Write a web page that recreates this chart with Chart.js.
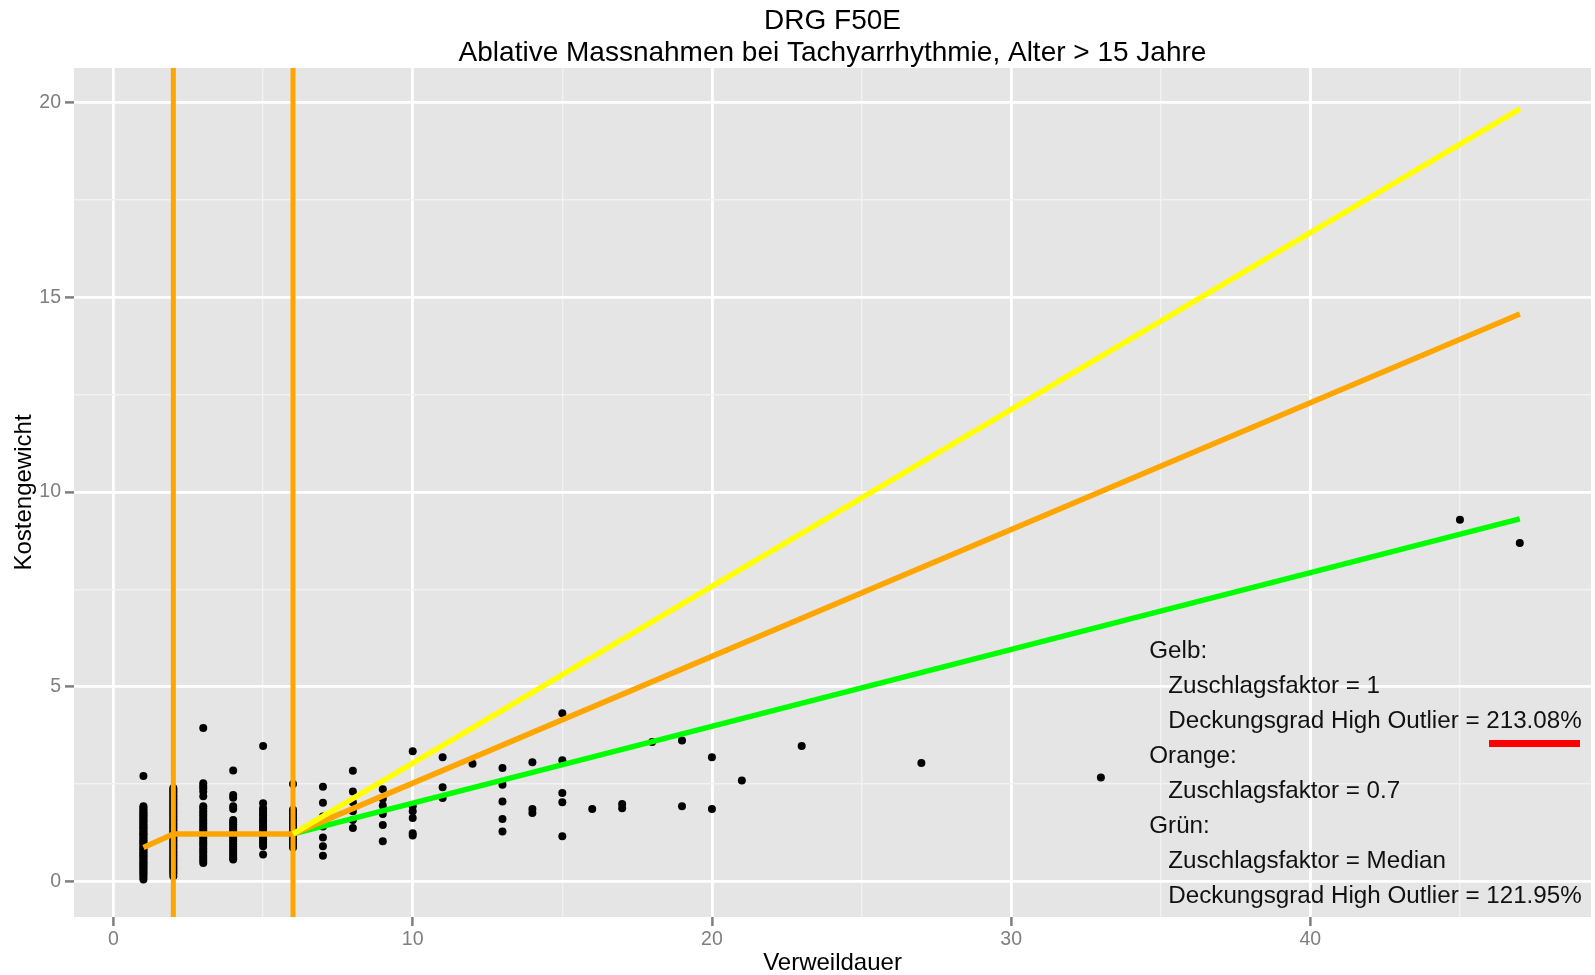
<!DOCTYPE html>
<html><head><meta charset="utf-8">
<script src="https://cdn.jsdelivr.net/npm/chart.js@4"></script>
<style>html,body{margin:0;padding:0;background:#fff}#c{display:block}</style>
</head><body>
<canvas id="c" width="1595" height="975"></canvas>
<script>
// ---- text ----
const titleLines = ['DRG F50E', 'Ablative Massnahmen bei Tachyarrhythmie, Alter > 15 Jahre'];
const xAxisTitle = 'Verweildauer';
const yAxisTitle = 'Kostengewicht';
const annotationLines = [
  ['Gelb:', 0],
  ['Zuschlagsfaktor = 1', 1],
  ['Deckungsgrad High Outlier = 213.08%', 1],
  ['Orange:', 0],
  ['Zuschlagsfaktor = 0.7', 1],
  ['Grün:', 0],
  ['Zuschlagsfaktor = Median', 1],
  ['Deckungsgrad High Outlier = 121.95%', 1]
];

// ---- axes ----
const xMajorTicks = [0, 10, 20, 30, 40];
const xMinorTicks = [5, 15, 25, 35, 45];
const yMajorTicks = [0, 5, 10, 15, 20];
const yMinorTicks = [2.5, 7.5, 12.5, 17.5];
const xRange = [-1.32, 49.38];
const yRange = [-0.914, 20.89];

// ---- scatter data: Verweildauer (days) and the Kostengewicht values observed at each ----
const verweildauer = [1, 2, 3, 4, 5, 6, 7, 8, 9, 10, 11, 12, 13, 14, 15, 16, 17, 18, 19, 20, 21, 23, 27, 33, 45, 47];
const kostengewichte = [
  [2.71, 1.93, 1.89, 1.85, 1.81, 1.77, 1.73, 1.70, 1.66, 1.62, 1.58, 1.55, 1.51, 1.47, 1.43, 1.39, 1.36, 1.32, 1.28, 1.24, 1.21, 1.17, 1.13, 1.09, 1.05, 1.02, 0.98, 0.94, 0.90, 0.86, 0.83, 0.79, 0.75, 0.71, 0.67, 0.64, 0.60, 0.56, 0.52, 0.48, 0.45, 0.41, 0.37, 0.33, 0.29, 0.25, 0.21, 0.16, 0.10, 0.05],
  [2.40, 2.36, 2.31, 2.27, 2.22, 2.18, 2.13, 2.09, 2.04, 2.00, 1.95, 1.91, 1.86, 1.82, 1.77, 1.73, 1.68, 1.64, 1.59, 1.55, 1.50, 1.46, 1.41, 1.37, 1.32, 1.28, 1.23, 1.19, 1.14, 1.10, 1.05, 1.01, 0.96, 0.92, 0.87, 0.83, 0.78, 0.74, 0.69, 0.65, 0.60, 0.56, 0.51, 0.47, 0.42, 0.38, 0.33, 0.29, 0.24, 0.20, 0.13],
  [3.94, 2.52, 2.45, 2.39, 2.31, 2.19, 1.93, 1.87, 1.80, 1.74, 1.68, 1.61, 1.55, 1.49, 1.42, 1.36, 1.30, 1.23, 1.17, 1.11, 1.04, 0.98, 0.92, 0.85, 0.79, 0.73, 0.66, 0.60, 0.54, 0.47],
  [2.85, 2.22, 2.15, 1.93, 1.86, 1.58, 1.52, 1.46, 1.40, 1.33, 1.27, 1.21, 1.15, 1.09, 1.03, 0.96, 0.90, 0.84, 0.78, 0.72, 0.65, 0.60, 0.56],
  [3.48, 2.01, 1.88, 1.82, 1.76, 1.70, 1.63, 1.57, 1.51, 1.45, 1.39, 1.33, 1.26, 1.20, 1.14, 1.08, 1.02, 0.96, 0.90, 0.69],
  [2.50, 1.84, 1.78, 1.71, 1.64, 1.57, 1.50, 1.43, 1.36, 1.29, 1.22, 1.15, 1.08, 1.01, 0.94, 0.87],
  [2.43, 2.02, 1.67, 1.41, 1.13, 0.90, 0.66],
  [2.84, 2.31, 2.03, 1.80, 1.58, 1.37],
  [2.37, 2.12, 1.95, 1.73, 1.45, 1.03],
  [3.34, 1.93, 1.80, 1.63, 1.24, 1.18],
  [3.19, 2.42, 2.14],
  [3.02],
  [2.91, 2.48, 2.05, 1.60, 1.28],
  [3.06, 1.86, 1.76],
  [4.32, 3.11, 2.27, 2.03, 1.16],
  [1.86],
  [1.99, 1.88],
  [3.58],
  [3.62, 1.93],
  [3.19, 1.86],
  [2.59],
  [3.48],
  [3.04],
  [2.67],
  [9.29],
  [8.69]
];

// ---- reference lines ----
const orangeX = [1, 2, 6, 47];
const orangeY = [0.87, 1.22, 1.22, 14.57];
const yellowX = [6, 47];
const yellowY = [1.22, 19.84];
const greenX = [6, 47];
const greenY = [1.22, 9.31];
const grenzVerweildauer = [2, 6];

// ---- build ----
const zip = (xs, ys) => xs.map((x, i) => ({x, y: ys[i]}));
const points = [];
verweildauer.forEach((x, i) => kostengewichte[i].forEach(y => points.push({x, y})));

const FONT = "'Liberation Sans', Arial, Helvetica, sans-serif";
Chart.defaults.font.family = FONT;

const lineDs = (label, data, color, width) => ({
  label, data, showLine: true, borderColor: color, backgroundColor: color,
  borderWidth: width, pointRadius: 0, pointHoverRadius: 0, fill: false, tension: 0, order: 1
});

const datasets = [
  lineDs('Gelb', zip(yellowX, yellowY), '#FFFF00', 5.5),
  lineDs('Orange', zip(orangeX, orangeY), '#FFA500', 5.5),
  lineDs('Grün', zip(greenX, greenY), '#00FF00', 5.5),
  ...grenzVerweildauer.map(g => lineDs('Grenze ' + g, [{x: g, y: yRange[0]}, {x: g, y: yRange[1]}], '#FFA500', 5)),
  {label: 'Fälle', data: points, pointRadius: 4, pointHoverRadius: 4, backgroundColor: '#000000',
   borderColor: '#000000', borderWidth: 0, order: 10}
];

const gridOpts = (major) => ({
  color: c => (c.tick && major.includes(c.tick.value)) ? '#FFFFFF' : '#F2F2F2',
  lineWidth: c => (c.tick && major.includes(c.tick.value)) ? 2.8 : 1.4,
  tickColor: c => (c.tick && major.includes(c.tick.value)) ? '#7F7F7F' : 'rgba(0,0,0,0)',
  tickWidth: 2.5,
  tickLength: 9,
  drawTicks: true,
  drawOnChartArea: true
});

const bgPlugin = {
  id: 'bg',
  beforeDraw(chart) {
    const {ctx, chartArea: a} = chart;
    ctx.save();
    ctx.fillStyle = '#FFFFFF';
    ctx.fillRect(0, 0, chart.width, chart.height);
    ctx.fillStyle = '#E5E5E5';
    ctx.fillRect(a.left, a.top, a.right - a.left, a.bottom - a.top);
    ctx.restore();
  }
};

const textPlugin = {
  id: 'texts',
  afterDraw(chart) {
    const {ctx, chartArea: a} = chart;
    const cx = (a.left + a.right) / 2;
    ctx.save();
    ctx.fillStyle = '#000000';
    ctx.textAlign = 'center';
    ctx.textBaseline = 'alphabetic';
    ctx.font = '28px ' + FONT;
    ctx.fillText(titleLines[0], cx, 29);
    ctx.fillText(titleLines[1], cx, 61);
    ctx.font = '24px ' + FONT;
    ctx.fillText(xAxisTitle, cx, 970);
    ctx.save();
    ctx.translate(30.5, (a.top + a.bottom) / 2);
    ctx.rotate(-Math.PI / 2);
    ctx.fillText(yAxisTitle, 0, 0);
    ctx.restore();
    // annotation
    ctx.textAlign = 'left';
    ctx.fillStyle = '#111111';
    ctx.font = '24.2px ' + FONT;
    annotationLines.forEach(([t, ind], i) => {
      ctx.fillText(t, ind ? 1168.3 : 1149.3, 658.3 + 34.9 * i);
    });
    ctx.fillStyle = '#FF0000';
    ctx.fillRect(1489, 740, 91, 7);
    ctx.restore();
  }
};

new Chart(document.getElementById('c'), {
  type: 'scatter',
  data: {datasets},
  options: {
    responsive: false,
    animation: false,
    devicePixelRatio: 1,
    events: [],
    layout: {padding: {top: 68, right: 2, left: 0, bottom: 0}},
    plugins: {legend: {display: false}, tooltip: {enabled: false}, title: {display: false}},
    scales: {
      x: {
        type: 'linear', min: xRange[0], max: xRange[1],
        afterFit(s) { s.height = 58; },
        afterBuildTicks(s) { s.ticks = [...xMajorTicks, ...xMinorTicks].sort((p, q) => p - q).map(v => ({value: v})); },
        grid: gridOpts(xMajorTicks),
        border: {display: false},
        ticks: {
          callback: v => xMajorTicks.includes(v) ? String(v) : '',
          color: '#7F7F7F', font: {size: 19.5}, padding: 2, autoSkip: false, maxRotation: 0
        }
      },
      y: {
        type: 'linear', min: yRange[0], max: yRange[1],
        afterFit(s) { s.width = 74; },
        afterBuildTicks(s) { s.ticks = [...yMajorTicks, ...yMinorTicks].sort((p, q) => p - q).map(v => ({value: v})); },
        grid: gridOpts(yMajorTicks),
        border: {display: false},
        ticks: {
          callback: v => yMajorTicks.includes(v) ? String(v) : '',
          color: '#7F7F7F', font: {size: 19.5}, padding: 4, autoSkip: false
        }
      }
    }
  },
  plugins: [bgPlugin, textPlugin]
});
</script>
</body></html>
